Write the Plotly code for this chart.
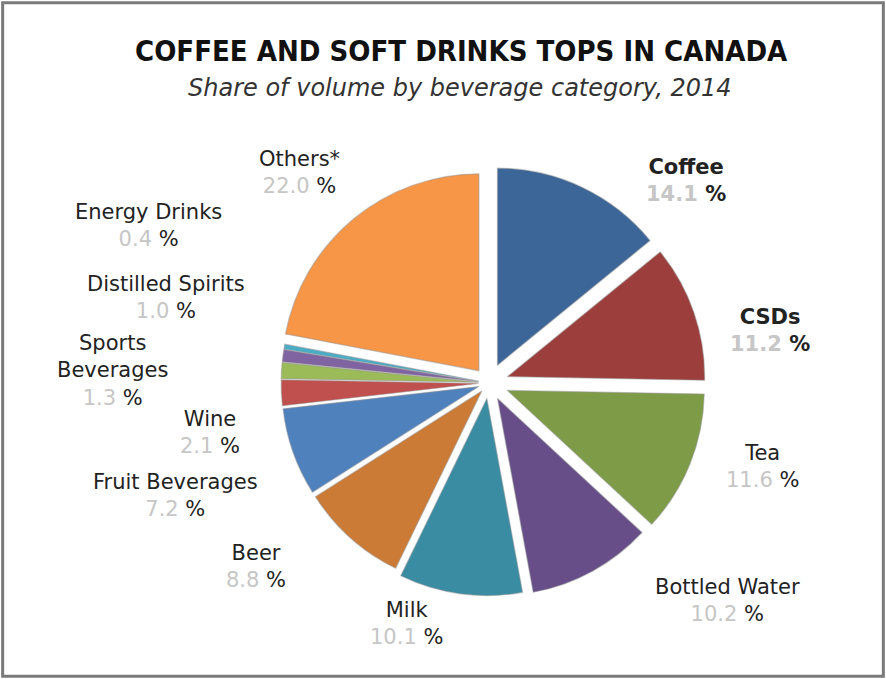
import plotly.graph_objects as go

# ---- data ----
categories = ["Coffee", "CSDs", "Tea", "Bottled Water", "Milk", "Beer",
              "Fruit Beverages", "Wine", "Sports Beverages", "Distilled Spirits",
              "Energy Drinks", "Others*"]
shares = [14.1, 11.2, 11.6, 10.2, 10.1, 8.8, 7.2, 2.1, 1.3, 1.0, 0.4, 22.0]
label_text = ["Coffee", "CSDs", "Tea", "Bottled Water", "Milk", "Beer",
              "Fruit Beverages", "Wine", "Sports<br>Beverages", "Distilled Spirits",
              "Energy Drinks", "Others*"]
bold_labels = ["Coffee", "CSDs"]

# ---- styles ----
colors = ["#3D6698", "#9C3E3C", "#7E9B47", "#674E89", "#3A8CA3", "#CC7B36",
          "#4F81BD", "#C0504D", "#9BBB59", "#8064A2", "#4BACC6", "#F79646"]
pulls = [0.10, 0.10, 0.10, 0.09, 0.08, 0.055, 0.055, 0.055, 0.055, 0.055, 0.055, 0.08]

W, H = 886, 679
# label positions (pixel centres) for annotation layout
label_pos = {
    "Coffee": (686, 181), "CSDs": (770, 330), "Tea": (762, 466),
    "Bottled Water": (727, 600), "Milk": (406, 623), "Beer": (256, 566),
    "Fruit Beverages": (175, 495), "Wine": (210, 433),
    "Sports Beverages": (113, 371), "Distilled Spirits": (166, 297),
    "Energy Drinks": (148, 226), "Others*": (299, 172),
}

cx, cy, r = 489, 383, 197
half = r * (1 + max(pulls))

fig = go.Figure(go.Pie(
    labels=categories, values=shares, sort=False, direction="clockwise",
    rotation=0, pull=pulls, textinfo="none", hoverinfo="label+percent",
    marker=dict(colors=colors, line=dict(color="rgba(150,150,150,0.5)", width=1.2)),
    domain=dict(x=[(cx - half) / W, (cx + half) / W],
                y=[(H - cy - half) / H, (H - cy + half) / H]),
    showlegend=False,
))

annotations = [
    dict(text="<b>COFFEE AND SOFT DRINKS TOPS IN CANADA</b>", x=461 / W, y=1 - 51 / H,
         xref="paper", yref="paper", showarrow=False, xanchor="center", yanchor="middle",
         font=dict(family="DejaVu Sans Condensed, DejaVu Sans", size=29, color="#111")),
    dict(text="<i>Share of volume by beverage category, 2014</i>", x=460 / W, y=1 - 88 / H,
         xref="paper", yref="paper", showarrow=False, xanchor="center", yanchor="middle",
         font=dict(family="DejaVu Sans", size=24, color="#333")),
]

for cat, lab, val in zip(categories, label_text, shares):
    px, py = label_pos[cat]
    num = f"<span style='color:#c6c6c6'>{val:.1f}</span>"
    if cat in bold_labels:
        txt = f"<b>{lab}</b><br><b>{num} %</b>"
    else:
        txt = f"{lab}<br>{num} %"
    annotations.append(dict(
        text=txt, x=px / W, y=1 - py / H, xref="paper", yref="paper",
        showarrow=False, xanchor="center", yanchor="middle", align="center",
        font=dict(family="DejaVu Sans", size=21, color="#222")))

fig.update_layout(
    width=W, height=H, margin=dict(l=0, r=0, t=0, b=0),
    paper_bgcolor="white", plot_bgcolor="white",
    annotations=annotations,
    shapes=[dict(type="rect", xref="paper", yref="paper", x0=0.003, y0=0.004,
                 x1=0.997, y1=0.996, line=dict(color="#7a7a7a", width=3))],
)

fig.write_html("out.html")
